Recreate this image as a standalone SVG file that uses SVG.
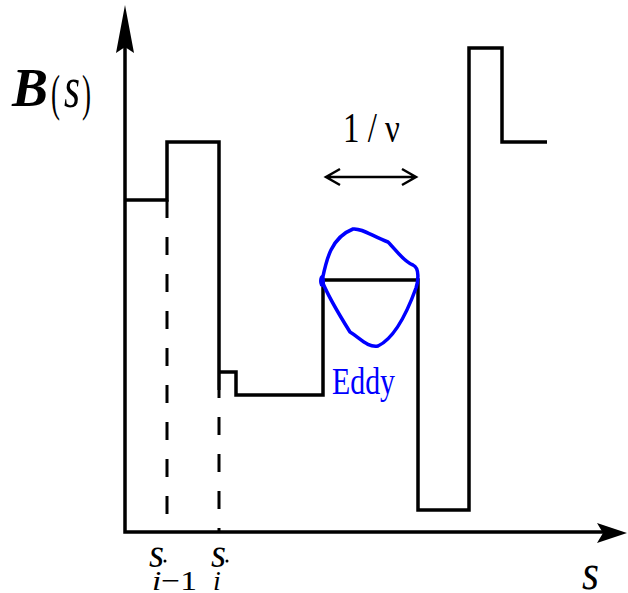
<svg xmlns="http://www.w3.org/2000/svg" width="628" height="593" viewBox="0 0 628 593">
<style>
.ln{fill:none;stroke:#000;stroke-width:3.5;stroke-linejoin:miter;stroke-linecap:butt}
.dash{fill:none;stroke:#000;stroke-width:3;stroke-dasharray:18 19}
.it{font-style:italic}
</style>
<rect width="628" height="593" fill="#fff"/>
<g id="axes">
<path class="ln" d="M125,40 V532 H605" stroke-width="4"/>
<path d="M125,5 L134,53 L125,47 L116,53 Z" fill="#000"/>
<path d="M627,533 L597,543 L603,533 L597,523 Z" fill="#000"/>
</g>
<g id="connectors">
<path class="ln" d="M125,200 H167 V142 H219 V390 M219,372 H236 V395 H323 V280 H418 V510 H469 V48 H502 V142 H547"/>
<path class="dash" d="M167,200 V532"/>
<path class="dash" d="M219,390 V532" stroke-dashoffset="10"/>
<path d="M327,177 H415 M340,169 L326,177 L340,185 M402,169 L416,177 L402,185" fill="none" stroke="#000" stroke-width="2.5"/>
</g>
<g id="eddy">
<path d="M322,281 C326,262 330,238 353,229 C362,228 372,236 388,242 C396,250 404,262 413,265 C420,268 418,282 416,288 C408,310 395,338 378,346 C368,348 360,338 350,332 C340,316 328,296 322,281 Z" fill="none" stroke="#0000ff" stroke-width="3.5"/>
<ellipse cx="322" cy="281" rx="3" ry="6" fill="#0000ff"/>
<text x="332" y="394" font-family="Liberation Serif, serif" font-size="38" textLength="63" lengthAdjust="spacingAndGlyphs" fill="#0000ff">Eddy</text>
</g>
<g id="labels" font-family="Liberation Serif, serif" fill="#000">
<text x="12" y="106" font-size="54" font-weight="bold" class="it" textLength="36" lengthAdjust="spacingAndGlyphs">B</text>
<text x="51" y="110" font-size="50" textLength="9" lengthAdjust="spacingAndGlyphs">(</text>
<text x="64" y="107" font-size="60" class="it" textLength="16" lengthAdjust="spacingAndGlyphs">s</text>
<text x="82" y="110" font-size="50" textLength="9" lengthAdjust="spacingAndGlyphs">)</text>
<text x="343" y="142" font-size="42" textLength="57" lengthAdjust="spacingAndGlyphs">1 / ν</text>
<text x="149" y="567" font-size="40" class="it" textLength="15" lengthAdjust="spacingAndGlyphs">s</text>
<circle cx="165" cy="561" r="1.5"/>
<text x="152" y="590" font-size="28" textLength="45" lengthAdjust="spacingAndGlyphs"><tspan class="it">i</tspan>−1</text>
<text x="211" y="567" font-size="40" class="it" textLength="15" lengthAdjust="spacingAndGlyphs">s</text>
<circle cx="227" cy="561" r="1.5"/>
<text x="213" y="590" font-size="28" class="it">i</text>
<text x="582" y="589" font-size="50" class="it" textLength="17" lengthAdjust="spacingAndGlyphs">s</text>
</g>
</svg>
